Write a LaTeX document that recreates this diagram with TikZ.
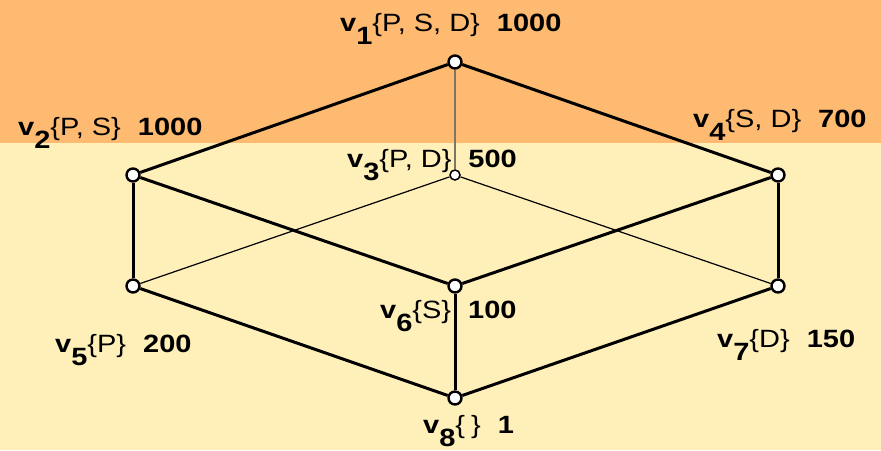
\documentclass[tikz,border=0pt]{standalone}
\usepackage{fontspec}
\setmainfont{Liberation Sans}[FakeStretch=1.16]
\definecolor{topband}{HTML}{FDBA70}
\definecolor{lowband}{HTML}{FFF0BA}
\definecolor{backline}{HTML}{7D7566}
\newcommand{\vlab}[3]{\textbf{v}\raisebox{-13pt}{\textbf{#1}}\{#2\}\hspace{17pt}\textbf{#3}}
\tikzset{
  vtx/.style={circle, draw=black, fill=white, line width=2.4pt, inner sep=0pt, minimum size=13pt},
  vtxback/.style={circle, draw=black, fill=white, line width=1.5pt, inner sep=0pt, minimum size=10pt},
  frontedge/.style={line width=3pt, black},
  thinedge/.style={line width=1.2pt, black},
  backedge/.style={line width=2.4pt, backline},
  lbl/.style={anchor=base west, inner sep=0pt, font=\fontsize{25}{30}\selectfont}
}
\begin{document}
\begin{tikzpicture}[x=1pt,y=-1pt]
\useasboundingbox (0,0) rectangle (881,450);
\fill[topband] (0,0) rectangle (881,143);
\fill[lowband] (0,143) rectangle (881,450);

\node[vtx] (v1) at (455,62) {};
\node[vtx] (v2) at (133,175) {};
\node[vtxback] (v3) at (455,175) {};
\node[vtx] (v4) at (778,175) {};
\node[vtx] (v5) at (133,286) {};
\node[vtx] (v6) at (455,286) {};
\node[vtx] (v7) at (778,286) {};
\node[vtx] (v8) at (455,398) {};

\draw[backedge] (v1) -- (v3);
\draw[thinedge] (v3) -- (v5);
\draw[thinedge] (v3) -- (v7);
\draw[frontedge] (v1) -- (v2);
\draw[frontedge] (v1) -- (v4);
\draw[frontedge] (v2) -- (v5);
\draw[frontedge] (v2) -- (v6);
\draw[frontedge] (v4) -- (v6);
\draw[frontedge] (v4) -- (v7);
\draw[frontedge] (v5) -- (v8);
\draw[frontedge] (v6) -- (v8);
\draw[frontedge] (v7) -- (v8);

\node[lbl] (l1) at (340,31) {\vlab{1}{P, S, D}{1000}};
\node[lbl] (l2) at (18,135) {\vlab{2}{P, S}{1000}};
\node[lbl] (l3) at (347,167) {\vlab{3}{P, D}{500}};
\node[lbl] (l4) at (693,127) {\vlab{4}{S, D}{700}};
\node[lbl] (l5) at (55,352) {\vlab{5}{P}{200}};
\node[lbl] (l6) at (380,318) {\vlab{6}{S}{100}};
\node[lbl] (l7) at (717,347) {\vlab{7}{D}{150}};
\node[lbl] (l8) at (423,433) {\vlab{8}{\hspace{6pt}}{1}};
\end{tikzpicture}
\end{document}
